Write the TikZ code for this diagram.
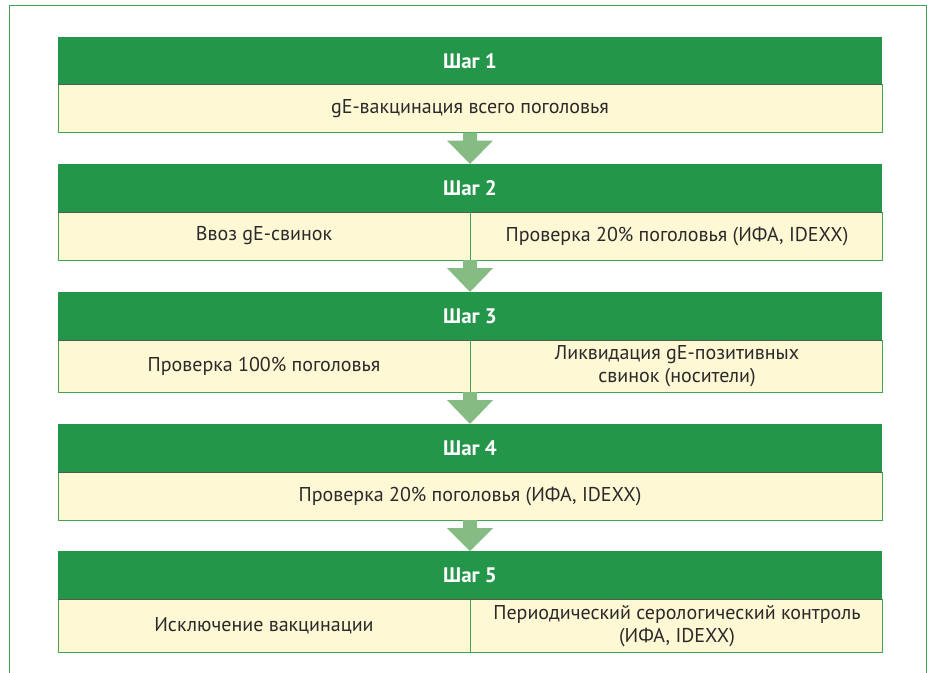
\documentclass[tikz,border=0pt]{standalone}
\usepackage{fontspec}
\setmainfont{PT Sans}
\definecolor{hdr}{HTML}{24964A}
\definecolor{cream}{HTML}{FEF8D5}
\definecolor{frm}{HTML}{3FA456}
\definecolor{arr}{HTML}{86BC84}
\definecolor{sep}{HTML}{505A50}
\definecolor{txt}{HTML}{2A2A2A}
\begin{document}
\begin{tikzpicture}[x=1pt,y=-1pt,
  hbox/.style={fill=hdr,draw=none},
  cbox/.style={fill=cream,draw=frm,line width=1pt},
  htext/.style={text=white,font=\fontsize{21}{24}\selectfont\bfseries},
  ctext/.style={text=txt,font=\fontsize{20}{23}\selectfont,align=center},
  divl/.style={draw=frm,line width=1pt},
  sepl/.style={draw=sep,line width=1pt},
  arrowshape/.style={fill=arr,draw=none}]
\useasboundingbox (0,0) rectangle (933,672);
\draw[frm,line width=1pt] (9.5,680) -- (9.5,5.5) -- (926.5,5.5) -- (926.5,680);
\def\L{58}\def\R{882}\def\M{470}
\newcommand{\stepblock}[5]{%
  \fill[hbox] (\L,#2) rectangle (\R,#3);
  \draw[cbox] (\L,#3) rectangle (\R,#4);
  \draw[sepl] (\L,#3) -- (\R,#3);
  \node[htext] (#1h) at (\M,{(#2+#3)/2}) {#5};
}
\newcommand{\stepdownarrow}[3]{%
  \fill[arrowshape] (463,#1) -- (477,#1) -- (477,#1+8) -- (493,#1+8) -- (470,#2) -- (447,#1+8) -- (463,#1+8) -- cycle;
  \coordinate (#3) at (470,#2);
}
\stepblock{s1}{37}{84.5}{132.5}{Шаг 1}
\node[ctext] (c1) at (\M,108.5) {gE-вакцинация всего поголовья};
\stepdownarrow{132.5}{164}{a1}
\stepblock{s2}{164}{212}{260}{Шаг 2}
\draw[divl] (\M,212) -- (\M,260);
\node[ctext] (c2a) at (264,236) {Ввоз gE-свинок};
\node[ctext] (c2b) at (677,236) {Проверка 20\% поголовья (ИФА, IDEXX)};
\stepdownarrow{260}{292}{a2}
\stepblock{s3}{292}{340}{392}{Шаг 3}
\draw[divl] (\M,340) -- (\M,392);
\node[ctext] (c3a) at (264,366) {Проверка 100\% поголовья};
\node[ctext] (c3b) at (677,366) {Ликвидация gE-позитивных\\свинок (носители)};
\stepdownarrow{392}{424}{a3}
\stepblock{s4}{424}{472}{520}{Шаг 4}
\node[ctext] (c4) at (\M,496) {Проверка 20\% поголовья (ИФА, IDEXX)};
\stepdownarrow{520}{551}{a4}
\stepblock{s5}{551}{599.5}{652}{Шаг 5}
\draw[divl] (\M,599.5) -- (\M,652);
\node[ctext] (c5a) at (264,626) {Исключение вакцинации};
\node[ctext] (c5b) at (677,626) {Периодический серологический контроль\\(ИФА, IDEXX)};
\end{tikzpicture}
\end{document}
